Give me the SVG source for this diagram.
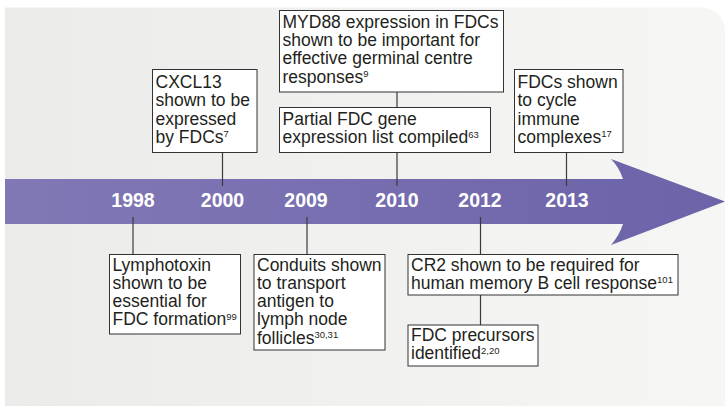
<svg xmlns="http://www.w3.org/2000/svg" width="725" height="407" viewBox="0 0 725 407">
  <defs>
    <linearGradient id="bg" x1="0" y1="0" x2="1" y2="0">
      <stop offset="0" stop-color="#ebebea"/>
      <stop offset="1" stop-color="#f6f6f5"/>
    </linearGradient>
    <linearGradient id="band" x1="5" y1="0" x2="725" y2="0" gradientUnits="userSpaceOnUse">
      <stop offset="0" stop-color="#8179b6"/>
      <stop offset="0.85" stop-color="#6e66aa"/>
      <stop offset="1" stop-color="#6c64a8"/>
    </linearGradient>
    <style>
      .box { fill: #ffffff; stroke: #333333; stroke-width: 1; }
      .txt { font-family: "Liberation Sans", Arial, sans-serif; font-size: 17.5px; fill: #231f20; }
      .sup { font-size: 9.5px; }
      .year { font-family: "Liberation Sans", Arial, sans-serif; font-size: 19.5px; font-weight: bold; fill: #ffffff; text-anchor: middle; }
      .conn line { stroke: #3a3a3a; stroke-width: 1.2; }
    </style>
  </defs>

  <!-- background panel -->
  <path d="M5,7.5 H702 A23,23 0 0 1 725,30.5 V406 H5 Z" fill="url(#bg)"/>

  <!-- timeline arrow -->
  <path id="arrow" d="M5,179 H623 Q619,167 611,159 L725,201.5 L611,245 Q619,236 623,224 H5 Z" fill="url(#band)"/>

  <!-- years -->
  <g id="years">
    <text class="year" x="133" y="207">1998</text>
    <text class="year" x="222.5" y="207">2000</text>
    <text class="year" x="306" y="207">2009</text>
    <text class="year" x="397" y="207">2010</text>
    <text class="year" x="480" y="207">2012</text>
    <text class="year" x="567" y="207">2013</text>
  </g>

  <!-- connectors -->
  <g id="connectors" class="conn">
    <line x1="222.5" y1="152.5" x2="222.5" y2="186"/>
    <line x1="397" y1="92" x2="397" y2="107.5"/>
    <line x1="397" y1="152.5" x2="397" y2="186"/>
    <line x1="566.5" y1="152.5" x2="566.5" y2="186"/>
    <line x1="133" y1="217" x2="133" y2="254.5"/>
    <line x1="307" y1="217" x2="307" y2="254.5"/>
    <line x1="480.5" y1="217" x2="480.5" y2="254.5"/>
    <line x1="480.5" y1="295" x2="480.5" y2="325"/>
  </g>

  <!-- nodes above -->
  <g id="cxcl13">
    <rect class="box" x="152.5" y="69.5" width="104.5" height="83"/>
    <text class="txt" x="155.5" y="88">CXCL13<tspan x="155.5" dy="18.3">shown to be</tspan><tspan x="155.5" dy="18.3">expressed</tspan><tspan x="155.5" dy="18.3">by FDCs</tspan><tspan class="sup" dy="-5.5">7</tspan></text>
  </g>

  <g id="myd88">
    <rect class="box" x="279.5" y="10.5" width="224" height="81.5"/>
    <text class="txt" x="282.5" y="27.7">MYD88 expression in FDCs<tspan x="282.5" dy="18.3">shown to be important for</tspan><tspan x="282.5" dy="18.3">effective germinal centre</tspan><tspan x="282.5" dy="18.3">responses</tspan><tspan class="sup" dy="-5.5">9</tspan></text>
  </g>

  <g id="partial">
    <rect class="box" x="279.5" y="107.5" width="211" height="45"/>
    <text class="txt" x="282.5" y="125">Partial FDC gene<tspan x="282.5" dy="18.3">expression list compiled</tspan><tspan class="sup" dy="-5.5">63</tspan></text>
  </g>

  <g id="fdc-cycle">
    <rect class="box" x="514.5" y="69.5" width="108.5" height="83"/>
    <text class="txt" x="517.5" y="88">FDCs shown<tspan x="517.5" dy="18.3">to cycle</tspan><tspan x="517.5" dy="18.3">immune</tspan><tspan x="517.5" dy="18.3">complexes</tspan><tspan class="sup" dy="-5.5">17</tspan></text>
  </g>

  <!-- nodes below -->
  <g id="lymphotoxin">
    <rect class="box" x="109.5" y="254.5" width="131" height="79.5"/>
    <text class="txt" x="112.5" y="270.5">Lymphotoxin<tspan x="112.5" dy="18.3">shown to be</tspan><tspan x="112.5" dy="18.3">essential for</tspan><tspan x="112.5" dy="18.3">FDC formation</tspan><tspan class="sup" dy="-5.5">99</tspan></text>
  </g>

  <g id="conduits">
    <rect class="box" x="254" y="254.5" width="131" height="95.5"/>
    <text class="txt" x="257" y="270.5">Conduits shown<tspan x="257" dy="18.3">to transport</tspan><tspan x="257" dy="18.3">antigen to</tspan><tspan x="257" dy="18.3">lymph node</tspan><tspan x="257" dy="18.3">follicles</tspan><tspan class="sup" dy="-5.5">30,31</tspan></text>
  </g>

  <g id="cr2">
    <rect class="box" x="408" y="254.5" width="270" height="40.5"/>
    <text class="txt" x="411" y="270.5">CR2 shown to be required for<tspan x="411" dy="18.3">human memory B cell response</tspan><tspan class="sup" dy="-5.5">101</tspan></text>
  </g>

  <g id="precursors">
    <rect class="box" x="408" y="325" width="130" height="41"/>
    <text class="txt" x="411" y="341">FDC precursors<tspan x="411" dy="18.3">identified</tspan><tspan class="sup" dy="-5.5">2,20</tspan></text>
  </g>
</svg>
